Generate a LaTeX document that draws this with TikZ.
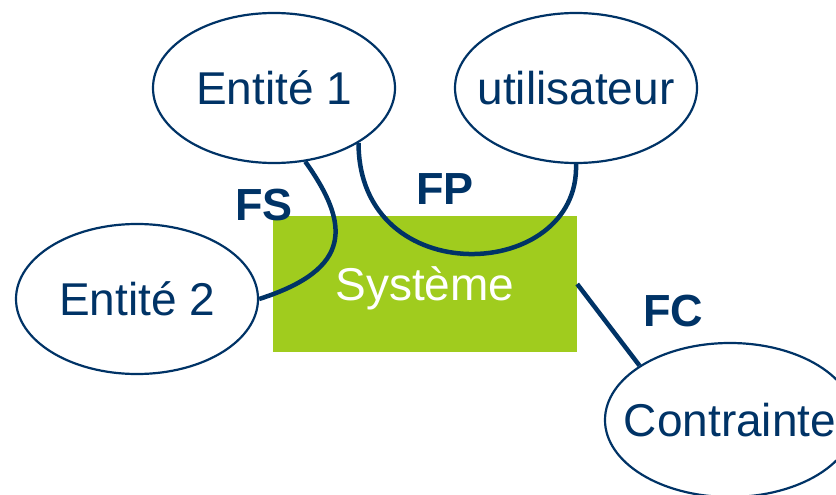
\documentclass[tikz,border=0pt]{standalone}
\usepackage{fontspec}
\setmainfont{Liberation Sans}
\usetikzlibrary{shapes.geometric}
\definecolor{navy}{RGB}{0,51,102}
\definecolor{sysgreen}{RGB}{160,204,30}
\begin{document}
\begin{tikzpicture}[x=1pt,y=-1pt,
  ent/.style={ellipse,draw=navy,line width=2.2pt,fill=white,minimum width=242pt,minimum height=150pt,inner sep=0pt},
  entlab/.style={text=navy,font=\fontsize{46}{50}\selectfont,inner sep=0pt,text height=33pt,text depth=0pt},
  sysbox/.style={rectangle,fill=sysgreen,minimum width=304pt,minimum height=136pt,inner sep=0pt,
    text=white,font=\fontsize{46}{50}\selectfont,text height=33pt,text depth=0pt},
  conn/.style={draw=navy,line width=4.5pt},
  flab/.style={text=navy,font=\fontsize{45}{50}\selectfont\bfseries,inner sep=0pt,text height=32pt,text depth=0pt}]
\useasboundingbox (0,0) rectangle (836,495);
\node[sysbox] (sys) at (425,284) {Système};
\node[ent,label={[entlab]center:Entité 1}] (e1) at (274,88) {};
\node[ent,label={[entlab]center:utilisateur}] (u) at (576,88) {};
\node[ent,label={[entlab]center:Entité 2}] (e2) at (137,299) {};
\node[ent,minimum width=250pt,minimum height=154pt,label={[entlab]center:Contrainte}] (c) at (730,420) {};
\draw[conn] (e1.-67) .. controls +(45,63) and +(94,-30) .. (e2.east);
\draw[conn] (e1.-33) .. controls +(0,150) and +(4,118) .. (u.south);
\draw[conn] (sys.east) -- (c.149);
\node[flab] (fs) at (264,204) {FS};
\node[flab] (fp) at (445,188) {FP};
\node[flab] (fc) at (673,310) {FC};
\end{tikzpicture}
\end{document}
